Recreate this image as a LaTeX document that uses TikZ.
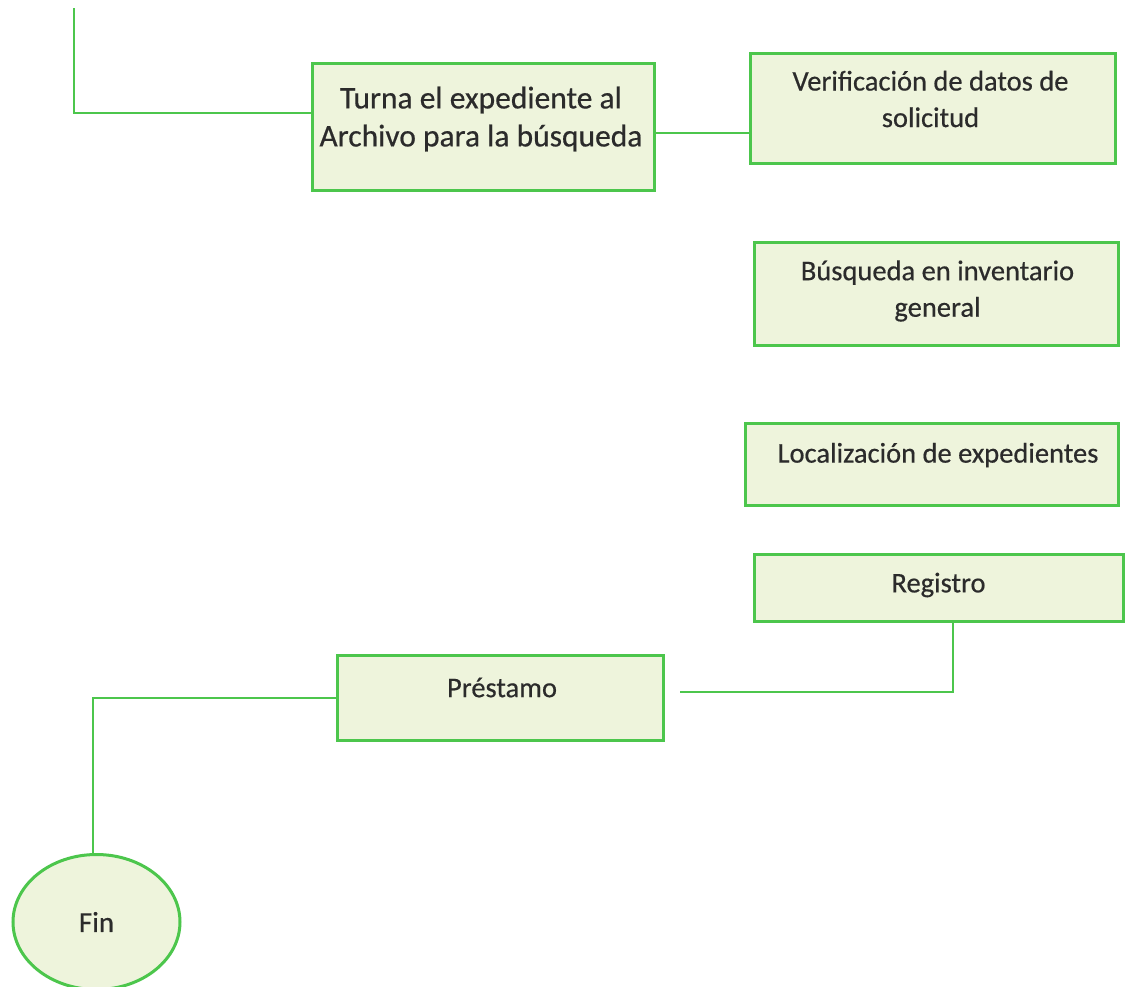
\documentclass[tikz,border=0pt]{standalone}
\usepackage{fontspec}
\setmainfont{Carlito}
\newfontfamily\lblfont{Carlito}[FakeBold=0.5]
\usetikzlibrary{shapes.geometric}
\definecolor{boxfill}{HTML}{EEF4DC}
\definecolor{boxline}{HTML}{4CC64C}
\definecolor{txt}{HTML}{2B2B2B}
\tikzset{
  stepbox/.style={draw=boxline, line width=3pt, fill=boxfill, inner sep=0pt},
  lbl/.style={text=txt, align=center, inner sep=0pt, font=\lblfont\fontsize{28.5}{36.5}\selectfont},
  biglbl/.style={lbl, font=\lblfont\fontsize{31.5}{38}\selectfont},
  endnode/.style={ellipse, draw=boxline, line width=3pt, fill=boxfill, text=txt,
    inner sep=0pt, minimum width=167pt, minimum height=135pt, font=\lblfont\fontsize{29}{37}\selectfont},
  link/.style={draw=boxline, line width=2pt}
}
\begin{document}
\begin{tikzpicture}[x=1pt,y=-1pt]
\useasboundingbox (0,0) rectangle (1133,986);
\fill[white] (0,0) rectangle (1133,986);
\node[stepbox, minimum width=342pt, minimum height=127pt] (turna) at (483,126.5) {};
\node[biglbl] (turnat) at ([yshift=7.5pt,xshift=-2pt]turna.center) {Turna el expediente al\\Archivo para la búsqueda};
\node[stepbox, minimum width=365pt, minimum height=110pt] (verif) at (932.5,108) {};
\node[lbl] (veriftxt) at ([yshift=9pt,xshift=-2pt]verif.center) {Verificación de datos de\\solicitud};
\node[stepbox, minimum width=364pt, minimum height=103pt] (busq) at (936,293.5) {};
\node[lbl] (busqt) at ([yshift=2.5pt,xshift=1.5pt]busq.center) {Búsqueda en inventario\\general};
\node[stepbox, minimum width=373pt, minimum height=82pt] (local) at (931.5,464) {};
\node[lbl] (localt) at ([yshift=9pt,xshift=6.5pt]local.center) {Localización de expedientes};
\node[stepbox, minimum width=369pt, minimum height=67pt] (reg) at (938.5,587.5) {};
\node[lbl] (regt) at ([yshift=2.5pt]reg.center) {Registro};
\node[stepbox, minimum width=326pt, minimum height=85pt] (prest) at (500,697.5) {};
\node[lbl] (prestt) at ([yshift=10pt,xshift=2pt]prest.center) {Préstamo};
\node[endnode] (fin) at (96.5,922) {Fin};
\coordinate (tl) at (74,8);
\draw[link] (tl) |- ([yshift=13.5pt]turna.west);
\draw[link] ([yshift=-6.5pt]turna.east) coordinate (a) -- (a -| verif.west);
\coordinate (pe) at ([xshift=15pt,yshift=5.5pt]prest.east);
\draw[link] ([xshift=14.5pt]reg.south) |- (pe);
\draw[link] (prest.west) -| ([xshift=-4pt]fin.north);
\end{tikzpicture}
\end{document}
